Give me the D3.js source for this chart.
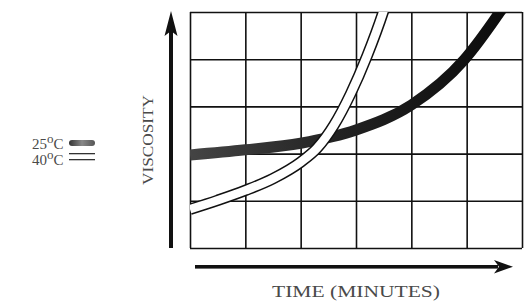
<!DOCTYPE html>
<html>
<head>
<meta charset="utf-8">
<script src="https://cdn.jsdelivr.net/npm/d3@7"></script>
<style>
  body { margin: 0; background: #fff; }
  svg { display: block; }
  text { font-family: "Liberation Serif", "DejaVu Serif", serif; fill: #4a4a4a; }
</style>
</head>
<body>
<svg id="chart" width="525" height="302"></svg>
<script>
// grid: 6 time columns, 5 viscosity rows (no numbers on the original)
var timeTicks = [0, 1, 2, 3, 4, 5, 6];
var viscTicks = [0, 1, 2, 3, 4, 5];

// 25 C curve (thick band) in grid units
var time25 = [0, 1.0, 2.0, 3.0, 4.0, 4.95, 5.6, 5.8];
var visc25 = [1.97, 2.08, 2.22, 2.5, 3.03, 3.98, 5.0, 5.35];

// 40 C curve (double line)
var time40 = [0, 0.5, 1.0, 1.5, 2.0, 2.3, 2.6, 2.9, 3.2, 3.5, 3.6];
var visc40 = [0.82, 1.01, 1.22, 1.47, 1.82, 2.12, 2.6, 3.26, 4.07, 5.03, 5.4];

var legendLabels = ["25", "40"];

var svg = d3.select("#chart");

var x = d3.scaleLinear().domain([0, 6]).range([190, 522]);
var y = d3.scaleLinear().domain([0, 5]).range([248, 12]);

var defs = svg.append("defs");
defs.append("clipPath").attr("id", "plotClip")
    .append("rect")
    .attr("x", x(0)).attr("y", y(5))
    .attr("width", x(6) - x(0)).attr("height", y(0) - y(5));

var grad = defs.append("linearGradient").attr("id", "bandFill")
    .attr("gradientUnits", "userSpaceOnUse")
    .attr("x1", 190).attr("x2", 520).attr("y1", 0).attr("y2", 0);
grad.append("stop").attr("offset", 0).attr("stop-color", "#444");
grad.append("stop").attr("offset", 0.45).attr("stop-color", "#222");
grad.append("stop").attr("offset", 1).attr("stop-color", "#0a0a0a");

var legGrad = defs.append("linearGradient").attr("id", "legFill");
legGrad.append("stop").attr("offset", 0).attr("stop-color", "#333");
legGrad.append("stop").attr("offset", 0.5).attr("stop-color", "#888");
legGrad.append("stop").attr("offset", 1).attr("stop-color", "#555");

//grid lines from the axes, no labels
var grid = svg.append("g").attr("class", "grid");
grid.append("g")
    .attr("transform", "translate(0," + y(0) + ")")
    .call(d3.axisBottom(x).tickValues(timeTicks).tickSize(-(y(0) - y(5))).tickFormat(""));
grid.append("g")
    .attr("transform", "translate(" + x(0) + ",0)")
    .call(d3.axisLeft(y).tickValues(viscTicks).tickSize(-(x(6) - x(0))).tickFormat(""));
grid.selectAll(".domain").remove();
grid.selectAll(".tick line").attr("stroke", "#111").attr("stroke-width", 1.6);

var line = d3.line()
    .x(function(d) { return x(d[0]); })
    .y(function(d) { return y(d[1]); })
    .curve(d3.curveMonotoneX);

var pts25 = d3.zip(time25, visc25);
var pts40 = d3.zip(time40, visc40);

var curves = svg.append("g").attr("clip-path", "url(#plotClip)");

// 25 C: thick dark band
curves.append("path")
    .attr("d", line(pts25))
    .attr("fill", "none")
    .attr("stroke", "url(#bandFill)")
    .attr("stroke-width", 11);

// 40 C: hollow double line (black outline, white core)
curves.append("path")
    .attr("d", line(pts40))
    .attr("fill", "none")
    .attr("stroke", "#111")
    .attr("stroke-width", 11.5);
curves.append("path")
    .attr("d", line(pts40))
    .attr("fill", "none")
    .attr("stroke", "#fff")
    .attr("stroke-width", 8.5);

// axis arrows
var arrows = svg.append("g").attr("fill", "#111");
arrows.append("rect").attr("x", 169).attr("y", 30).attr("width", 4).attr("height", y(0) - 30);
arrows.append("path").attr("d", "M171,11 L177.5,36 L171,31 L164.5,36 Z");
arrows.append("rect").attr("x", 195).attr("y", 265).attr("width", 303).attr("height", 3.6);
arrows.append("path").attr("d", "M513,266.8 L494,260 L499,266.8 L494,273.6 Z");

// axis titles
svg.append("text")
    .attr("transform", "translate(153,140) rotate(-90)")
    .attr("text-anchor", "middle")
    .attr("font-size", 15)
    .attr("textLength", 90)
    .attr("lengthAdjust", "spacingAndGlyphs")
    .text("VISCOSITY");

svg.append("text")
    .attr("x", 272).attr("y", 297)
    .attr("font-size", 16)
    .attr("textLength", 168)
    .attr("lengthAdjust", "spacingAndGlyphs")
    .text("TIME (MINUTES)");

// legend
var legend = svg.append("g");
var rowY = [149, 165];
legendLabels.forEach(function(lab, i) {
    var t = legend.append("text").attr("x", 32).attr("y", rowY[i]).attr("font-size", 15);
    t.append("tspan").text(lab);
    t.append("tspan").attr("dy", -6).attr("font-size", 13).text("o");
    t.append("tspan").attr("dy", 6).text("C");
});
legend.append("rect")
    .attr("x", 69).attr("y", 140).attr("width", 26).attr("height", 6).attr("rx", 3)
    .attr("fill", "url(#legFill)");
legend.append("rect").attr("x", 69).attr("y", 153).attr("width", 26).attr("height", 1.3).attr("fill", "#333");
legend.append("rect").attr("x", 69).attr("y", 159).attr("width", 26).attr("height", 1.3).attr("fill", "#333");
</script>
</body>
</html>
